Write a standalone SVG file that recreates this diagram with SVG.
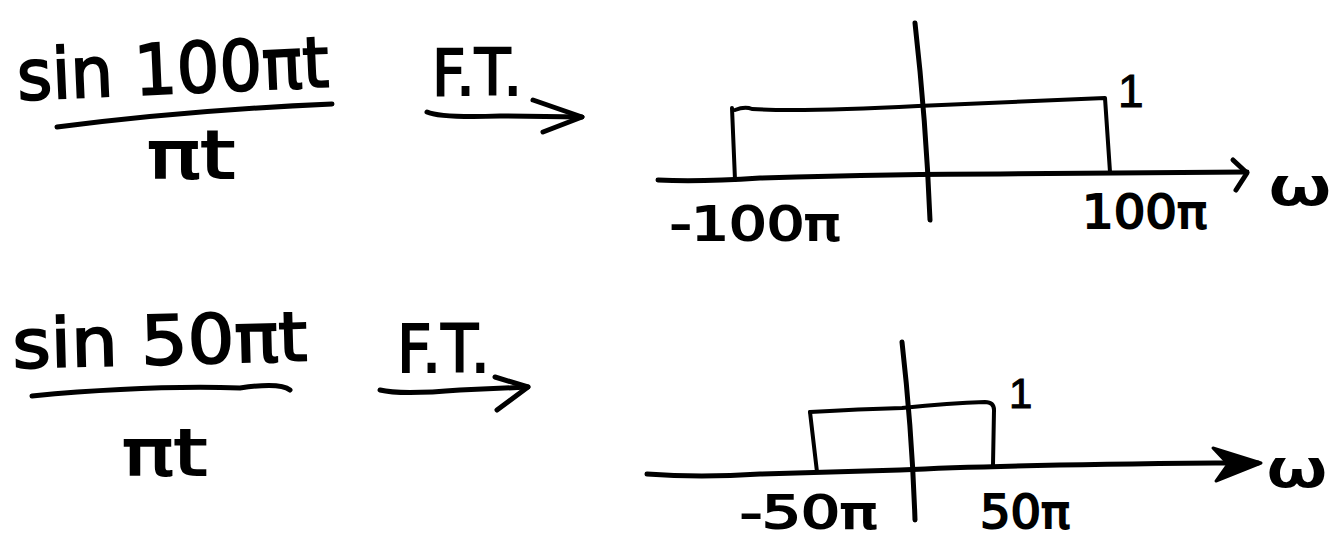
<svg xmlns="http://www.w3.org/2000/svg" width="1335" height="539" viewBox="0 0 1335 539">
<style>
.ink{fill:none;stroke:#000;stroke-width:5;stroke-linecap:round;stroke-linejoin:round}
.thin{fill:none;stroke:#000;stroke-width:4;stroke-linecap:round;stroke-linejoin:round}
.t{font-family:"DejaVu Sans","Liberation Sans",sans-serif;fill:#000;stroke:#000;stroke-width:2}
.one{font-family:"Liberation Sans","DejaVu Sans",sans-serif;fill:#000;stroke:#000;stroke-width:1}
</style>
<rect width="1335" height="539" fill="#fff"/>
<g id="expr1">
<text class="t" x="18" y="100" font-size="70" textLength="312" lengthAdjust="spacingAndGlyphs" transform="rotate(-2.5 18 100)">sin 100πt</text>
<path class="ink" d="M57,127 Q190,110 332,104"/>
<text class="t" x="147" y="178" font-size="66" textLength="88" lengthAdjust="spacingAndGlyphs">πt</text>
</g>
<g id="expr2">
<text class="t" x="13" y="368" font-size="68" textLength="295" lengthAdjust="spacingAndGlyphs" transform="rotate(-1.5 13 368)">sin 50πt</text>
<path class="ink" d="M32,396 Q150,385 240,388 Q280,382 290,390"/>
<text class="t" x="122" y="475" font-size="64" textLength="85" lengthAdjust="spacingAndGlyphs">πt</text>
</g>
<g id="connectors">
<g id="ft1">
<text class="t" x="432" y="95" font-size="64" textLength="90" lengthAdjust="spacingAndGlyphs">F.T.</text>
<path class="ink" d="M427,112 Q440,118 500,116 L582,117"/>
<path class="ink" d="M533,100 L582,117 L543,132"/>
</g>
<g id="ft2">
<text class="t" x="397" y="372" font-size="66" textLength="93" lengthAdjust="spacingAndGlyphs">F.T.</text>
<path class="ink" d="M380,390 Q400,395 460,390 L528,387"/>
<path class="ink" d="M495,377 L528,387 L497,410"/>
</g>
</g>
<g id="graph1">
<path class="ink" d="M658,180 Q700,182 760,178 Q900,174 1000,174 L1247,172"/>
<path class="ink" d="M1233,160 L1247,173 L1236,190"/>
<path class="ink" d="M915,23 Q926,120 930,220"/>
<path class="thin" d="M732,108 L735,180"/>
<path class="thin" d="M735,110 Q745,106 752,109 Q800,112 918,106 L1105,98 L1110,172"/>
<text class="one" x="1118" y="107" font-size="46">1</text>
<text class="t" x="670" y="240" font-size="46" textLength="170" lengthAdjust="spacingAndGlyphs">-100π</text>
<text class="t" x="1082" y="228" font-size="46" textLength="125" lengthAdjust="spacingAndGlyphs">100π</text>
<text class="t" x="1268" y="204" font-size="50" textLength="64" lengthAdjust="spacingAndGlyphs">ω</text>
</g>
<g id="graph2">
<path class="ink" d="M647,474 Q700,478 760,474 Q820,472 900,470 Q1000,465 1215,463 L1258,463"/>
<path d="M1213,448 L1261,463 L1216,481 L1228,464 Z" fill="#000" stroke="#000" stroke-width="3" stroke-linejoin="round"/>
<path class="ink" d="M902,342 Q912,430 915,520"/>
<path class="thin" d="M810,412 L817,472"/>
<path class="thin" d="M810,412 Q860,409 902,408 Q950,403 985,402 Q994,402 994,410 L993,465"/>
<text class="one" x="1009" y="408" font-size="42">1</text>
<text class="t" x="740" y="528" font-size="44" textLength="137" lengthAdjust="spacingAndGlyphs">-50π</text>
<text class="t" x="980" y="528" font-size="46" textLength="90" lengthAdjust="spacingAndGlyphs">50π</text>
<text class="t" x="1266" y="486" font-size="50" textLength="62" lengthAdjust="spacingAndGlyphs">ω</text>
</g>
</svg>
